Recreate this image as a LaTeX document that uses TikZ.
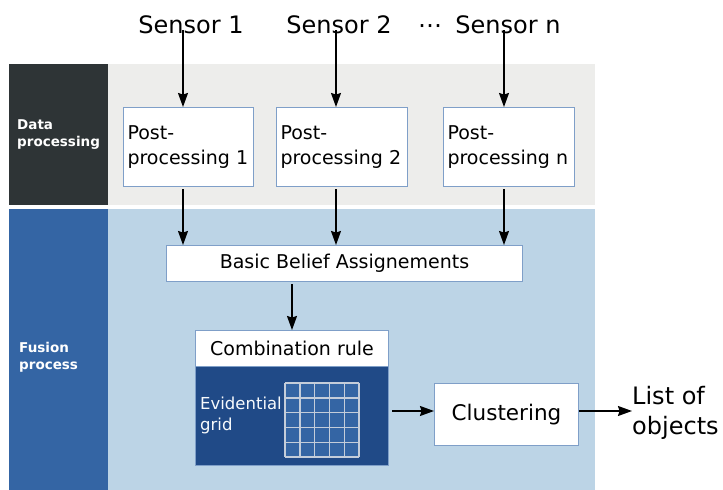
\documentclass[tikz,border=0pt]{standalone}
\usepackage{fontspec}
\setmainfont{DejaVu Sans}
\usetikzlibrary{arrows.meta,calc}
\definecolor{darkgrey}{HTML}{2E3436}
\definecolor{bandgrey}{HTML}{EDEDEB}
\definecolor{midblue}{HTML}{3465A4}
\definecolor{deepblue}{HTML}{204A87}
\definecolor{paleblue}{HTML}{BCD4E6}
\definecolor{edgeblue}{HTML}{7F9FC8}
\definecolor{gridline}{HTML}{C4CDDA}
\tikzset{
  px/.style={x=1pt,y=-1pt},
  whitebox/.style={draw=edgeblue,line width=1pt,fill=white},
  arr/.style={draw=black,line width=1.3pt,-{Stealth[length=14pt,width=10pt,inset=1.5pt]}},
  sensor/.style={font=\fontsize{24}{28}\selectfont,inner sep=0pt},
  bodytext/.style={font=\fontsize{19}{25}\selectfont},
  sidelabel/.style={font=\fontsize{13.5}{17}\selectfont\bfseries,text=white,align=left,anchor=west,inner sep=0pt},
}
\begin{document}
\begin{tikzpicture}[px]
\useasboundingbox (0,0) rectangle (723,490);
% bands
\fill[bandgrey] (108,64) rectangle (595,205);
\fill[darkgrey] (9,64) rectangle (108,205);
\fill[paleblue] (108,209) rectangle (595,490);
\fill[midblue] (9,209) rectangle (108,490);
\node[sidelabel] (dp) at (17,135) {Data\\processing};
\node[sidelabel] (fp) at (19,357) {Fusion\\process};
% sensors
\node[sensor] (s1) at (191,25) {Sensor 1};
\node[sensor] (s2) at (339,25) {Sensor 2};
\node[sensor] (dots) at (430,29) {⋯};
\node[sensor] (sn) at (508,25) {Sensor n};
% post-processing boxes
\node[whitebox,bodytext,anchor=north west,minimum width=130pt,minimum height=79pt,text width=122pt,inner xsep=4pt,align=left] (p1) at (123,107) {Post-\\processing 1};
\node[whitebox,bodytext,anchor=north west,minimum width=131pt,minimum height=79pt,text width=123pt,inner xsep=4pt,align=left] (p2) at (276,107) {Post-\\processing 2};
\node[whitebox,bodytext,anchor=north west,minimum width=131pt,minimum height=79pt,text width=123pt,inner xsep=4pt,align=left] (pn) at (443,107) {Post-\\processing n};
% BBA
\node[whitebox,bodytext,anchor=north west,minimum width=356pt,minimum height=36pt,inner sep=0pt] (bba) at (166,245) {Basic Belief Assignements};
% combination
\fill[deepblue,draw=edgeblue,line width=0.6pt] (195,366) rectangle (388,465);
\node[whitebox,bodytext,anchor=north west,minimum width=193pt,minimum height=36pt,inner sep=0pt] (comb) at (195,330) {Combination rule};
\coordinate (combright) at (388,411);
\node[font=\fontsize{16.5}{21}\selectfont,text=white!88!paleblue,align=left,anchor=west,inner sep=0pt] (evid) at (200,415) {Evidential\\grid};
\fill[midblue] (285,383) rectangle (359,456);
\foreach \i in {0,...,5}{
  \draw[gridline,line width=1.4pt] (285+\i*14.8,383) -- (285+\i*14.8,457);
  \draw[gridline,line width=1.4pt] (285,383+\i*14.8) -- (359,383+\i*14.8);
}
% clustering
\node[whitebox,font=\fontsize{21.5}{26}\selectfont,anchor=north west,minimum width=144pt,minimum height=62pt,inner sep=0pt] (clu) at (434,383) {Clustering};
\node[sensor,align=left,anchor=west,font=\fontsize{24}{30}\selectfont] (list) at (632,413) {List of\\objects};
% arrows
\coordinate (a1) at (183,0);
\coordinate (a2) at (336,0);
\coordinate (an) at (504,0);
\coordinate (ab) at (292,0);
\draw[arr] ($(s1.south -| a1)+(0,-4)$) -- (p1.north -| a1);
\draw[arr] ($(s2.south -| a2)+(0,-4)$) -- (p2.north -| a2);
\draw[arr] ($(sn.south -| an)+(0,-4)$) -- (pn.north -| an);
\draw[arr] ($(p1.south -| a1)+(0,2)$) -- (bba.north -| a1);
\draw[arr] ($(p2.south -| a2)+(0,2)$) -- (bba.north -| a2);
\draw[arr] ($(pn.south -| an)+(0,2)$) -- (bba.north -| an);
\draw[arr] ($(bba.south -| ab)+(0,2)$) -- (comb.north -| ab);
\draw[arr] ($(combright)+(4,0)$) -- (clu.west |- combright);
\draw[arr] (clu.east |- combright) -- (list.west |- combright);
\end{tikzpicture}
\end{document}
